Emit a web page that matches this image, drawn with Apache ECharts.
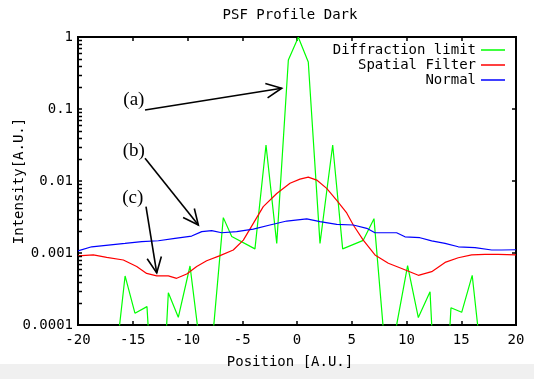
<!DOCTYPE html>
<html>
<head>
<meta charset="utf-8">
<script src="https://cdn.jsdelivr.net/npm/echarts@6/dist/echarts.min.js"></script>
<style>
  html, body { margin: 0; padding: 0; background: #fff; }
  #chart { width: 534px; height: 379px; }
</style>
</head>
<body>
<div id="chart"></div>
<script>
// Diffraction limit (green)
const posGreen = [-19.6, -18.6, -17.6, -16.7, -15.7, -14.8, -13.7, -12.7, -11.75, -10.84, -9.77, -8.8, -7.8,
  -6.73, -5.96, -3.84, -2.83, -1.85, -0.79, 0.12, 1.03, 2.1, 3.26, 4.17, 6.05, 7.03, 8.0, 9.0,
  10.1, 11.08, 12.15, 13.1, 14.06, 15.04, 16.0, 17.0, 18.0, 19.0, 20.0];
const valGreen = [1e-6, 1e-6, 1e-6, 2.1e-5, 4.8e-4, 1.46e-4, 1.8e-4, 5e-7, 2.8e-4, 1.28e-4, 6.6e-4, 4.3e-5, 4.5e-5,
  3.1e-3, 1.7e-3, 1.14e-3, 0.0316, 1.36e-3, 0.48, 0.99, 0.45, 1.36e-3, 0.0316, 1.14e-3, 1.5e-3, 3.0e-3, 5.4e-5, 8.3e-5,
  6.7e-4, 1.27e-4, 2.9e-4, 3.8e-7, 1.74e-4, 1.5e-4, 4.9e-4, 2e-5, 1e-6, 1e-6, 1e-6];

// Spatial Filter (red)
const posRed = [-20, -18.6, -17.38, -15.86, -14.64, -13.73, -12.81, -11.75, -10.99, -10.07, -9.16, -8.25, -7.03,
  -5.82, -4.9, -3.99, -3.08, -1.85, -0.64, 0.27, 1.03, 1.8, 2.71, 3.63, 4.54, 5.14, 6.05, 7.12,
  8.34, 9.56, 11.08, 12.3, 13.52, 14.73, 15.95, 17.17, 18.38, 20];
const valRed = [9.1e-4, 9.4e-4, 8.7e-4, 8.0e-4, 6.5e-4, 5.2e-4, 4.8e-4, 4.8e-4, 4.45e-4, 5.1e-4, 6.5e-4, 7.8e-4, 9.2e-4,
  1.1e-3, 1.51e-3, 2.58e-3, 4.4e-3, 6.7e-3, 9.3e-3, 0.0106, 0.0113, 0.0103, 7.9e-3, 5.4e-3, 3.6e-3, 2.45e-3, 1.51e-3, 9.4e-4,
  7.2e-4, 6.1e-4, 4.9e-4, 5.5e-4, 7.4e-4, 8.6e-4, 9.4e-4, 9.6e-4, 9.6e-4, 9.4e-4];

// Normal (blue)
const posBlue = [-20, -18.75, -17.23, -15.71, -14.18, -12.66, -11.14, -9.62, -8.7, -7.79, -6.88, -5.51, -3.99,
  -2.47, -0.94, 0.89, 2.1, 3.63, 5.14, 6.37, 7.12, 9.1, 9.86, 11.23, 12.3, 13.52, 14.73, 16.26,
  17.78, 18.69, 20];
const valBlue = [1.07e-3, 1.22e-3, 1.29e-3, 1.36e-3, 1.44e-3, 1.48e-3, 1.6e-3, 1.72e-3, 1.98e-3, 2.04e-3, 1.91e-3, 1.98e-3, 2.15e-3,
  2.45e-3, 2.78e-3, 2.97e-3, 2.72e-3, 2.5e-3, 2.45e-3, 2.2e-3, 1.91e-3, 1.91e-3, 1.68e-3, 1.63e-3, 1.47e-3, 1.36e-3, 1.22e-3, 1.19e-3,
  1.1e-3, 1.1e-3, 1.11e-3];

// annotations: label position, arrow start, arrow tip (data coords)
const noteNames = ['(a)', '(b)', '(c)'];
const noteLabelAt = [[-14.9, 0.133], [-14.9, 0.0261], [-15.0, 0.0058]];
const noteFrom = [[-13.88, 0.0969], [-13.88, 0.0207], [-13.79, 0.0044]];
const noteTo = [[-1.4, 0.194], [-9.01, 0.00245], [-12.81, 0.00053]];

const yMinor = [];
for (let d = 0.0001; d < 0.9; d *= 10) {
  for (let k = 2; k <= 9; k++) yMinor.push(+(d * k).toPrecision(3));
}

const mono = 'DejaVu Sans Mono';
const zip = (xs, ys) => xs.map((x, i) => [x, ys[i]]);
const tick = { inside: true, length: 4, lineStyle: { color: '#000', width: 1.5 } };

const chart = echarts.init(document.getElementById('chart'));

const option = {
  animation: false,
  backgroundColor: '#fff',
  title: {
    text: 'PSF Profile Dark',
    left: 285,
    top: 3,
    textAlign: 'center',
    textStyle: { fontFamily: mono, fontSize: 14, fontWeight: 'normal', color: '#000' }
  },
  legend: ['Diffraction limit', 'Spatial Filter', 'Normal'].map((name, i) => ({
    data: [name],
    right: 29,
    top: 43 + i * 15,
    padding: 0,
    align: 'right',
    icon: 'rect',
    itemWidth: 24,
    itemHeight: 1.5,
    selectedMode: false,
    textStyle: { fontFamily: mono, fontSize: 14, color: '#000' }
  })),
  grid: {
    left: 78, right: 18, top: 37, bottom: 54,
    show: true, borderColor: '#000', borderWidth: 2, backgroundColor: 'transparent'
  },
  xAxis: [
    {
      type: 'value', min: -20, max: 20, interval: 5,
      name: 'Position [A.U.]', nameLocation: 'middle', nameGap: 30,
      nameMoveOverlap: false,
      nameTextStyle: { fontFamily: mono, fontSize: 14, color: '#000', padding: [0, 14, 0, 0] },
      axisLine: { show: false, onZero: false },
      axisTick: tick,
      axisLabel: { margin: 8, fontFamily: mono, fontSize: 14, color: '#000' },
      splitLine: { show: false }
    },
    {
      type: 'value', min: -20, max: 20, interval: 5, position: 'top',
      axisLine: { show: false, onZero: false },
      axisTick: tick,
      axisLabel: { show: false },
      splitLine: { show: false }
    }
  ],
  yAxis: [
    {
      type: 'log', logBase: 10, min: 0.0001, max: 1,
      name: 'Intensity[A.U.]', nameLocation: 'middle', nameGap: 52, nameRotate: 90,
      nameMoveOverlap: false,
      nameTextStyle: { fontFamily: mono, fontSize: 14, color: '#000' },
      axisLine: { show: false, onZero: false },
      axisTick: tick,
      axisLabel: {
        margin: 5, fontFamily: mono, fontSize: 14, color: '#000',
        formatter: v => String(+v.toPrecision(3))
      },
      splitLine: { show: false }
    },
    {
      type: 'log', logBase: 10, min: 0.0001, max: 1, position: 'right',
      axisLine: { show: false, onZero: false },
      axisTick: tick,
      axisLabel: { show: false },
      splitLine: { show: false }
    }
  ],
  series: [
    {
      name: 'Diffraction limit', type: 'line', symbol: 'none',
      data: zip(posGreen, valGreen),
      lineStyle: { color: '#00ff00', width: 1.2 }, itemStyle: { color: '#00ff00' }
    },
    {
      name: 'Spatial Filter', type: 'line', symbol: 'none',
      data: zip(posRed, valRed),
      lineStyle: { color: '#ff0000', width: 1.2 }, itemStyle: { color: '#ff0000' }
    },
    {
      name: 'Normal', type: 'line', symbol: 'none',
      data: zip(posBlue, valBlue),
      lineStyle: { color: '#0000ff', width: 1.2 }, itemStyle: { color: '#0000ff' }
    }
  ]
};

chart.setOption(option);

// annotations, minor ticks and the bottom strip, placed through the chart's own scales
const toPx = p => chart.convertToPixel({ xAxisIndex: 0, yAxisIndex: 0 }, p);
const graphics = [
  { type: 'rect', left: 0, top: 364, shape: { width: 534, height: 15 }, style: { fill: '#f0f0f0' }, silent: true, z: -1 }
];

const leftX = toPx([-20, 1])[0];
yMinor.forEach(v => {
  const y = Math.round(toPx([-20, v])[1]) + 0.5;
  graphics.push({ type: 'line', z: 20, shape: { x1: leftX, y1: y, x2: leftX + 4, y2: y }, style: { stroke: '#000', lineWidth: 1.5 }, silent: true });
});

const headLen = 17, headAng = 25 * Math.PI / 180;
noteNames.forEach((n, i) => {
  const a = toPx(noteFrom[i]);
  const b = toPx(noteTo[i]);
  const ang = Math.atan2(a[1] - b[1], a[0] - b[0]);
  const h1 = [b[0] + headLen * Math.cos(ang + headAng), b[1] + headLen * Math.sin(ang + headAng)];
  const h2 = [b[0] + headLen * Math.cos(ang - headAng), b[1] + headLen * Math.sin(ang - headAng)];
  graphics.push({ type: 'line', shape: { x1: a[0], y1: a[1], x2: b[0], y2: b[1] }, style: { stroke: '#000', lineWidth: 1.6 }, silent: true, z: 10 });
  graphics.push({ type: 'polyline', shape: { points: [h1, b, h2] }, style: { stroke: '#000', lineWidth: 1.6, fill: null }, silent: true, z: 10 });
  const c = toPx(noteLabelAt[i]);
  graphics.push({
    type: 'text', x: c[0], y: c[1], silent: true, z: 10,
    style: { text: n, fontFamily: 'Liberation Serif', fontSize: 19, fill: '#000', align: 'center', verticalAlign: 'middle' }
  });
});

chart.setOption({ graphic: graphics });
</script>
</body>
</html>
